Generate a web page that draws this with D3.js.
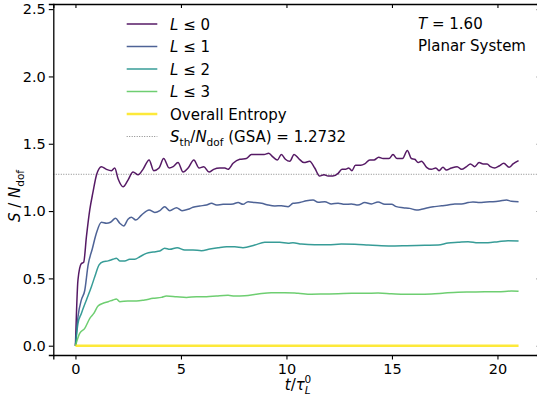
<!DOCTYPE html>
<html>
<head>
<meta charset="utf-8">
<script src="https://cdn.jsdelivr.net/npm/d3@7"></script>
<style>
  body { margin: 0; background: #fff; }
  svg { display: block; font-family: "DejaVu Sans", sans-serif; }
</style>
</head>
<body>
<div id="chart"></div>
<script>
// entropy per dof: [t/tau, S/Ndof]
var l0Data = [[0,0],[0.12,0.49],[0.28,0.61],[0.39,0.62],[0.52,0.81],[0.68,1.01],[0.83,1.14],[1.0,1.27],[1.23,1.33],
  [1.47,1.31],[1.71,1.30],[1.86,1.32],[2.02,1.24],[2.26,1.18],[2.49,1.23],[2.73,1.29],[2.97,1.27],[3.2,1.31],
  [3.49,1.38],[3.71,1.30],[3.96,1.32],[4.18,1.39],[4.44,1.32],[4.63,1.33],[4.86,1.36],[5.1,1.29],[5.34,1.32],
  [5.61,1.38],[5.86,1.32],[6.08,1.33],[6.33,1.29],[6.55,1.31],[6.84,1.32],[7.08,1.32],[7.23,1.31],[7.47,1.355],
  [7.79,1.385],[8.1,1.39],[8.34,1.42],[8.65,1.42],[8.94,1.42],[9.16,1.43],[9.37,1.40],[9.57,1.38],[9.76,1.42],
  [9.95,1.385],[10.16,1.37],[10.36,1.42],[10.58,1.39],[10.83,1.36],[11.1,1.37],[11.34,1.32],[11.57,1.26],
  [11.78,1.27],[11.97,1.26],[12.2,1.26],[12.45,1.28],[12.63,1.31],[12.8,1.31],[12.95,1.32],[13.1,1.30],
  [13.27,1.34],[13.52,1.34],[13.71,1.35],[13.95,1.38],[14.15,1.38],[14.37,1.40],[14.58,1.39],[14.86,1.39],
  [15.05,1.42],[15.24,1.39],[15.5,1.39],[15.73,1.45],[15.92,1.39],[16.08,1.385],[16.24,1.36],[16.4,1.37],
  [16.64,1.325],[16.87,1.31],[17.08,1.32],[17.23,1.30],[17.42,1.325],[17.58,1.305],[17.82,1.32],[18.09,1.33],
  [18.3,1.31],[18.53,1.33],[18.72,1.35],[18.92,1.33],[19.13,1.36],[19.32,1.35],[19.51,1.35],[19.67,1.33],
  [19.87,1.32],[20.08,1.335],[20.3,1.355],[20.55,1.325],[20.74,1.35],[21.0,1.375]];

var l1Data = [[0,0],[0.12,0.215],[0.28,0.34],[0.44,0.41],[0.6,0.60],[0.8,0.72],[0.99,0.835],[1.23,0.917],
  [1.47,0.91],[1.66,0.917],[1.9,0.946],[2.1,0.91],[2.29,0.89],[2.49,0.94],[2.65,0.954],[2.86,0.934],[3.13,0.97],
  [3.49,1.008],[3.76,0.99],[4.0,1.003],[4.23,1.033],[4.47,1.003],[4.79,1.025],[5.05,1.003],[5.34,1.013],
  [5.57,1.028],[5.89,1.038],[6.21,1.045],[6.45,1.058],[6.68,1.045],[7.0,1.05],[7.28,1.05],[7.47,1.053],
  [7.71,1.063],[7.94,1.05],[8.18,1.07],[8.5,1.063],[8.82,1.058],[9.13,1.045],[9.45,1.038],[9.76,1.04],
  [10.08,1.033],[10.31,1.058],[10.63,1.063],[10.95,1.077],[11.26,1.082],[11.5,1.065],[11.82,1.07],[12.13,1.053],
  [12.45,1.058],[12.76,1.05],[13.08,1.053],[13.39,1.045],[13.71,1.063],[14.03,1.053],[14.34,1.068],[14.66,1.05],
  [14.98,1.05],[15.21,1.033],[15.53,1.025],[15.84,1.02],[16.16,1.008],[16.4,1.013],[16.71,1.025],[17.03,1.033],
  [17.35,1.04],[17.66,1.045],[17.98,1.053],[18.3,1.053],[18.61,1.063],[18.84,1.068],[19.16,1.063],[19.48,1.068],
  [19.79,1.07],[20.11,1.075],[20.43,1.082],[20.66,1.073],[21.0,1.07]];

var l2Data = [[0,0],[0.12,0.166],[0.28,0.24],[0.52,0.34],[0.76,0.44],[0.91,0.51],[1.12,0.60],[1.31,0.624],
  [1.55,0.63],[1.78,0.642],[1.94,0.649],[2.1,0.63],[2.34,0.63],[2.57,0.642],[2.81,0.642],[3.05,0.661],[3.36,0.686],
  [3.68,0.696],[4.0,0.703],[4.23,0.724],[4.47,0.716],[4.82,0.728],[5.18,0.711],[5.57,0.711],[5.97,0.706],
  [6.37,0.718],[6.76,0.728],[7.16,0.735],[7.55,0.735],[7.94,0.728],[8.5,0.748],[8.97,0.768],[9.68,0.768],
  [10.08,0.761],[10.31,0.765],[10.71,0.755],[11.34,0.75],[11.97,0.75],[12.6,0.755],[13.24,0.753],[13.87,0.748],
  [14.5,0.743],[15.13,0.741],[15.69,0.743],[16.55,0.746],[17.19,0.748],[17.66,0.763],[18.13,0.768],[18.61,0.773],
  [19.08,0.765],[19.55,0.765],[20.03,0.773],[20.5,0.78],[21.0,0.778]];

var l3Data = [[0,0],[0.2,0.092],[0.44,0.129],[0.68,0.203],[0.87,0.24],[1.07,0.295],[1.31,0.315],[1.55,0.327],
  [1.78,0.34],[1.94,0.347],[2.1,0.327],[2.49,0.332],[2.89,0.332],[3.28,0.34],[3.68,0.352],[4.08,0.359],[4.31,0.369],
  [4.79,0.364],[5.26,0.359],[5.73,0.364],[6.21,0.364],[6.68,0.369],[7.23,0.374],[7.55,0.369],[8.02,0.371],
  [8.65,0.384],[9.28,0.394],[9.92,0.394],[10.55,0.389],[11.18,0.382],[11.82,0.384],[12.45,0.386],[13.08,0.389],
  [13.71,0.389],[14.34,0.391],[14.98,0.386],[15.61,0.382],[16.24,0.382],[16.87,0.384],[17.5,0.391],[18.13,0.397],
  [18.76,0.399],[19.39,0.401],[20.03,0.401],[20.66,0.406],[21.0,0.404]];

var overallData = [[0,0],[21.0,0]];

var gsaValue = 1.2732;
var xTicks = [0, 5, 10, 15, 20];
var yTicks = [0.0, 0.5, 1.0, 1.5, 2.0, 2.5];

var series = [
  {key: "l0", data: l0Data, color: "#440154", width: 1.5, label: "0"},
  {key: "l1", data: l1Data, color: "#3b528b", width: 1.5, label: "1"},
  {key: "l2", data: l2Data, color: "#21918c", width: 1.5, label: "2"},
  {key: "l3", data: l3Data, color: "#5ec962", width: 1.5, label: "3"},
  {key: "all", data: overallData, color: "#fde725", width: 2.5, label: null}
];

var width = 537, height = 403;
var margin = {top: 4, left: 53.3};

var x = d3.scaleLinear().domain([-1.05, 22.05]).range([margin.left, margin.left + 23.1 * 21.1]);
var y = d3.scaleLinear().domain([-0.069, 2.538]).range([355, margin.top]);

var svg = d3.select("#chart").append("svg")
    .attr("width", width)
    .attr("height", height);

var line = d3.line()
    .x(d => x(d[0]))
    .y(d => y(d[1]))
    .curve(d3.curveMonotoneX);

// gsa reference line
svg.append("line")
    .attr("x1", x.range()[0]).attr("x2", x.range()[1])
    .attr("y1", y(gsaValue)).attr("y2", y(gsaValue))
    .attr("stroke", "#888")
    .attr("stroke-width", 1)
    .attr("stroke-dasharray", "1,1.5");

svg.append("g")
  .selectAll("path")
  .data(series)
  .join("path")
    .attr("d", d => line(d.data))
    .attr("fill", "none")
    .attr("stroke", d => d.color)
    .attr("stroke-width", d => d.width)
    .attr("stroke-opacity", 0.9)
    .attr("stroke-linejoin", "round");

// axes
var fontSize = 14.5;
var xAxis = svg.append("g")
    .attr("transform", `translate(0,${y.range()[0]})`)
    .call(d3.axisBottom(x).tickValues(xTicks).tickFormat(d3.format("d")).tickSize(4.5).tickPadding(4));
var yAxis = svg.append("g")
    .attr("transform", `translate(${x.range()[0]},0)`)
    .call(d3.axisLeft(y).tickValues(yTicks).tickFormat(d3.format(".1f")).tickSize(4.5).tickPadding(3));
svg.append("g")
    .attr("transform", `translate(0,${y.range()[1]})`)
    .call(d3.axisTop(x).tickValues(xTicks).tickSize(-4).tickFormat(""));
svg.append("g")
    .attr("transform", `translate(${x.range()[1]},0)`)
    .call(d3.axisRight(y).tickValues(yTicks).tickSize(-4).tickFormat(""));

svg.selectAll(".domain").attr("stroke", "#000").attr("stroke-width", 1.3);
svg.selectAll(".tick line").attr("stroke", "#000").attr("stroke-width", 1.1);
svg.selectAll(".tick text")
    .attr("fill", "#000")
    .style("font-family", "DejaVu Sans")
    .style("font-size", fontSize + "px");

// axis labels
var xl = svg.append("text")
    .attr("x", 298).attr("y", 390)
    .attr("text-anchor", "middle")
    .style("font-size", "15px");
xl.append("tspan").attr("font-style", "italic").text("t");
xl.append("tspan").text("/");
xl.append("tspan").attr("font-style", "italic").text("τ");
xl.append("tspan").attr("font-style", "italic").attr("font-size", "10.5px").attr("dy", 4).text("L");
xl.append("tspan").attr("font-size", "10.5px").attr("dx", -6).attr("dy", -11).text("0");

var yl = svg.append("text")
    .attr("transform", "translate(20,196) rotate(-90)")
    .attr("text-anchor", "middle")
    .style("font-size", "15px");
yl.append("tspan").attr("font-style", "italic").text("S");
yl.append("tspan").text(" / ");
yl.append("tspan").attr("font-style", "italic").text("N");
yl.append("tspan").attr("font-size", "10.5px").attr("dy", 3.5).text("dof");

// legend
var legend = svg.append("g").style("font-size", "15px");
var rowY = d3.range(6).map(i => 24 + i * 22.5);
var entries = series.concat([{key: "gsa", color: "#888", width: 1, dash: "1,1.5"}]);

entries.forEach(function(d, i) {
  var g = legend.append("g").attr("transform", `translate(0,${rowY[i]})`);
  g.append("line")
      .attr("x1", 126.7).attr("x2", 157.3)
      .attr("stroke", d.color)
      .attr("stroke-width", d.key === "gsa" ? 1 : d.width)
      .attr("stroke-opacity", d.key === "gsa" ? 1 : 0.9)
      .attr("stroke-dasharray", d.dash || null);
  var t = g.append("text").attr("x", 170).attr("y", 5.5);
  if (d.label !== null && d.key !== "gsa") {
    t.append("tspan").attr("font-style", "italic").text("L");
    t.append("tspan").text(" ≤ " + d.label);
  } else if (d.key === "all") {
    t.text("Overall Entropy");
  } else {
    t.append("tspan").attr("font-style", "italic").text("S");
    t.append("tspan").attr("font-size", "10.5px").attr("dy", 3.5).text("th");
    t.append("tspan").attr("dy", -3.5).text("/");
    t.append("tspan").attr("font-style", "italic").text("N");
    t.append("tspan").attr("font-size", "10.5px").attr("dy", 3.5).text("dof");
    t.append("tspan").attr("dy", -3.5).text(" (GSA) = " + gsaValue);
  }
});

// annotation
var note = svg.append("text").attr("x", 418).attr("y", 29).style("font-size", "15px");
note.append("tspan").attr("font-style", "italic").text("T");
note.append("tspan").text(" = 1.60");
svg.append("text").attr("x", 418).attr("y", 51).style("font-size", "15px").text("Planar System");
</script>
</body>
</html>
